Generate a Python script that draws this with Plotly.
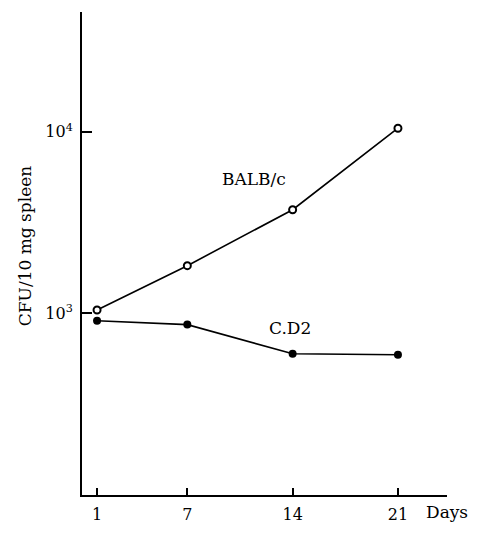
import plotly.graph_objects as go

days = [1, 7, 14, 21]
balbc = [1043, 1830, 3720, 10450]
cd2 = [911, 867, 599, 592]
x_ticks = [1, 7, 14, 21]
x_ticktext = ["1", "7", "14", "21"]
y_ticks = [1000, 10000]
y_ticktext = ["10<sup>3</sup>", "10<sup>4</sup>"]

FONT = "DejaVu Serif"

fig = go.Figure()
fig.add_trace(go.Scatter(
    x=days, y=cd2, mode="lines+markers",
    line=dict(color="black", width=1.6),
    marker=dict(symbol="circle", size=8, color="black"),
    showlegend=False))
fig.add_trace(go.Scatter(
    x=days, y=balbc, mode="lines+markers",
    line=dict(color="black", width=1.6),
    marker=dict(symbol="circle", size=7, color="white",
                line=dict(color="black", width=2)),
    showlegend=False))

L, R, T, B = 82, 31, 12, 27
W, H = 478, 536

fig.update_layout(
    width=W, height=H,
    margin=dict(l=L, r=R, t=T, b=B),
    paper_bgcolor="white", plot_bgcolor="white",
    font=dict(family=FONT, size=15, color="black"),
    xaxis=dict(range=[0, 24.26], tickvals=x_ticks, ticktext=x_ticktext,
               ticks="inside", ticklen=7, tickwidth=2, tickcolor="black",
               showline=True, linecolor="black", linewidth=2,
               showgrid=False, zeroline=False, ticklabelstandoff=4,
               tickfont=dict(family=FONT, size=16)),
    yaxis=dict(type="log", range=[2.0, 4.659], tickvals=y_ticks, ticktext=y_ticktext,
               ticks="inside", ticklen=10, tickwidth=2, tickcolor="black",
               showline=True, linecolor="black", linewidth=2,
               showgrid=False, zeroline=False, ticklabelstandoff=4,
               tickfont=dict(family=FONT, size=16)),
)

# pixel-positioned labels converted into paper coordinates
pw = W - L - R
ph = H - T - B
labels = [
    ("CFU/10 mg spleen", 25, 253, -90),
    ("BALB/c", 254, 184, 0),
    ("C.D2", 290, 337, 0),
    ("Days", 447, 527, 0),
]
for text, px, py, ang in labels:
    fig.add_annotation(text=text, xref="paper", yref="paper",
                       x=(px - L) / pw, y=(H - B - py) / ph,
                       xanchor="center", yanchor="middle", showarrow=False,
                       textangle=ang, font=dict(family=FONT, size=17))

fig.write_html("out.html")
